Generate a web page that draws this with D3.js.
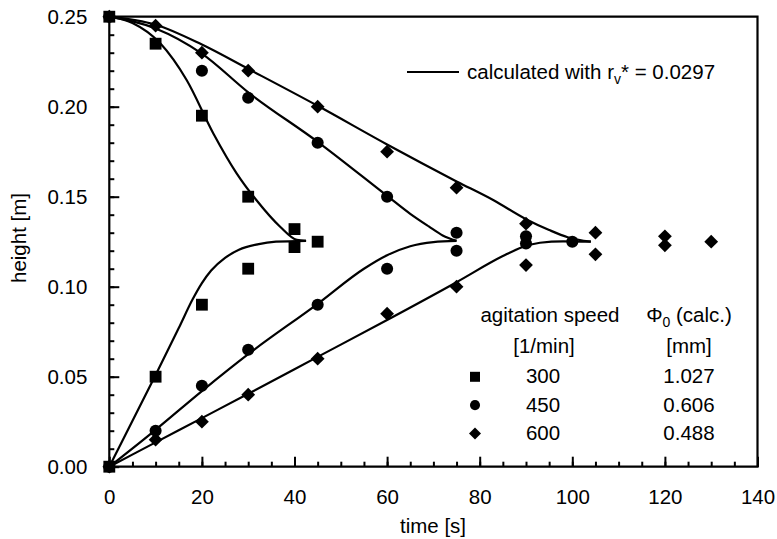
<!DOCTYPE html>
<html>
<head>
<meta charset="utf-8">
<script src="https://cdnjs.cloudflare.com/ajax/libs/d3/7.8.5/d3.min.js"></script>
<style>
  body { margin: 0; background: #fff; }
  svg text { font-family: "Liberation Sans", Arial, sans-serif; fill: #000; }
</style>
</head>
<body>
<div id="chart"></div>
<script>
// measured heights [m] over time [s] for each agitation speed
var meas300 = [[0,0.25],[10,0.235],[20,0.195],[30,0.15],[40,0.132],
  [0,0],[10,0.05],[20,0.09],[30,0.11],[40,0.122],[45,0.125]];
var meas450 = [[0,0.25],[20,0.22],[30,0.205],[45,0.18],[60,0.15],[75,0.13],
  [0,0],[10,0.02],[20,0.045],[30,0.065],[45,0.09],[60,0.11],[75,0.12],
  [90,0.128],[90,0.124],[100,0.125]];
var meas600 = [[0,0.25],[10,0.245],[20,0.23],[30,0.22],[45,0.2],[60,0.175],[75,0.155],
  [90,0.135],[105,0.13],[0,0],[10,0.015],[20,0.025],[30,0.04],[45,0.06],[60,0.085],
  [75,0.1],[90,0.112],[105,0.118],[120,0.128],[120,0.123],[130,0.125]];

// calculated curves
var calcTop300 = [[0,0.25],[5,0.2465],[11,0.2352],[16.7,0.2148],[22.5,0.185],[27.5,0.163],
  [31.8,0.148],[36.9,0.1333],[40.5,0.126],[42.5,0.1255]];
var calcBot300 = [[0,0],[10,0.051],[15,0.077],[18,0.093],[20,0.102],[22,0.109],[25,0.116],
  [28,0.1205],[32,0.1235],[36,0.125],[42.5,0.1255]];
var calcTop450 = [[0,0.25],[10,0.2435],[20,0.2295],[30,0.208],[45,0.1805],[60,0.1505],
  [65,0.1405],[69,0.1335],[72,0.1285],[75,0.1255]];
var calcBot450 = [[0,0],[10,0.0205],[20,0.042],[30,0.0625],[45,0.0905],[55,0.11],
  [60,0.1175],[65,0.1225],[70,0.1248],[75,0.1255]];
var calcTop600 = [[0,0.25],[10,0.2455],[20,0.2345],[30,0.221],[45,0.2005],[60,0.179],
  [75,0.1585],[83,0.148],[90,0.1375],[95,0.1315],[99,0.1275],[104,0.125]];
var calcBot600 = [[0,0],[10,0.0135],[20,0.027],[30,0.0405],[45,0.061],[60,0.0815],
  [75,0.1025],[85,0.117],[89,0.1218],[93,0.1244],[98,0.1252],[104,0.125]];

// legend table
var speeds = ["300", "450", "600"];
var phi0 = ["1.027", "0.606", "0.488"];
var xTicks = [0, 20, 40, 60, 80, 100, 120, 140];
var yTicks = [0, 0.05, 0.10, 0.15, 0.20, 0.25];

var svgWidth = 777, svgHeight = 539;
var margin = {top: 16.7, right: 19.5, bottom: 72.3, left: 109.3};
var width = svgWidth - margin.left - margin.right;
var height = svgHeight - margin.top - margin.bottom;
var fs = "20.5px";

var svg = d3.select("#chart").append("svg")
  .attr("width", svgWidth)
  .attr("height", svgHeight);

var chartGroup = svg.append("g")
  .attr("transform", `translate(${margin.left}, ${margin.top})`);

var x = d3.scaleLinear().domain([0, 140]).range([0, width]);
var y = d3.scaleLinear().domain([0, 0.25]).range([height, 0]);

// minor ticks
chartGroup.append("g")
  .attr("transform", `translate(0, ${height})`)
  .call(d3.axisBottom(x).tickValues(d3.range(0, 141, 5)).tickSize(-5).tickSizeOuter(0).tickFormat(""))
  .call(g => g.select(".domain").remove());
chartGroup.append("g")
  .call(d3.axisLeft(y).tickValues(d3.range(0, 0.2501, 0.01)).tickSize(-5).tickSizeOuter(0).tickFormat(""))
  .call(g => g.select(".domain").remove());

// major ticks + labels
var xAxis = chartGroup.append("g")
  .attr("transform", `translate(0, ${height})`)
  .call(d3.axisBottom(x).tickValues(xTicks).tickSize(-10).tickSizeOuter(0).tickPadding(23).tickFormat(d3.format("d")));
var yAxis = chartGroup.append("g")
  .call(d3.axisLeft(y).tickValues(yTicks).tickSize(-10).tickSizeOuter(0).tickPadding(22).tickFormat(d3.format(".2f")));
[xAxis, yAxis].forEach(function(a) {
  a.select(".domain").remove();
  a.selectAll("text").style("font-size", fs).attr("fill", "#000");
});
chartGroup.selectAll(".tick line").attr("stroke", "#000").attr("stroke-width", 2);

// frame
chartGroup.append("path")
  .attr("d", `M0,0V${height}H${width}V0Z`)
  .attr("fill", "none")
  .attr("stroke", "#000")
  .attr("stroke-width", 2.2);

// calculated curves
var line = d3.line()
  .x(d => x(d[0]))
  .y(d => y(d[1]))
  .curve(d3.curveMonotoneX);
[calcTop300, calcBot300, calcTop450, calcBot450, calcTop600, calcBot600].forEach(function(c) {
  chartGroup.append("path")
    .attr("d", line(c))
    .attr("fill", "none")
    .attr("stroke", "#000")
    .attr("stroke-width", 2.2);
});

// measured points
var series = [
  {data: meas300, type: d3.symbolSquare, size: 140, rot: 0},
  {data: meas450, type: d3.symbolCircle, size: 115, rot: 0},
  {data: meas600, type: d3.symbolSquare, size: 95, rot: 45}
];
series.forEach(function(s) {
  chartGroup.selectAll(null)
    .data(s.data)
    .enter()
    .append("path")
    .attr("d", d3.symbol().type(s.type).size(s.size))
    .attr("transform", d => `translate(${x(d[0])}, ${y(d[1])}) rotate(${s.rot})`)
    .attr("fill", "#000");
});

// axis titles
svg.append("text")
  .attr("x", 433)
  .attr("y", 533)
  .attr("text-anchor", "middle")
  .style("font-size", fs)
  .text("time [s]");
svg.append("text")
  .attr("transform", "translate(26, 238) rotate(-90)")
  .attr("text-anchor", "middle")
  .style("font-size", fs)
  .text("height [m]");

// legend: calculated line
svg.append("line")
  .attr("x1", 407).attr("x2", 459)
  .attr("y1", 72).attr("y2", 72)
  .attr("stroke", "#000")
  .attr("stroke-width", 2.2);
var calcLabel = svg.append("text")
  .attr("x", 467)
  .attr("y", 79)
  .style("font-size", fs);
calcLabel.append("tspan").text("calculated with r");
calcLabel.append("tspan").attr("dy", 5).style("font-size", "14px").text("v");
calcLabel.append("tspan").attr("dy", -5).text("* = 0.0297");

// legend: table
svg.append("text")
  .attr("x", 550).attr("y", 321.5)
  .attr("text-anchor", "middle")
  .style("font-size", fs)
  .text("agitation speed");
var phiHead = svg.append("text")
  .attr("x", 689).attr("y", 321.5)
  .attr("text-anchor", "middle")
  .style("font-size", fs);
phiHead.append("tspan").text("\u03A6");
phiHead.append("tspan").attr("dy", 5).style("font-size", "14px").text("0");
phiHead.append("tspan").attr("dy", -5).text(" (calc.)");
svg.append("text")
  .attr("x", 544).attr("y", 353)
  .attr("text-anchor", "middle")
  .style("font-size", fs)
  .text("[1/min]");
svg.append("text")
  .attr("x", 689).attr("y", 353)
  .attr("text-anchor", "middle")
  .style("font-size", fs)
  .text("[mm]");

var legSyms = [
  {type: d3.symbolSquare, size: 100, rot: 0},
  {type: d3.symbolCircle, size: 80, rot: 0},
  {type: d3.symbolSquare, size: 72, rot: 45}
];
speeds.forEach(function(sp, i) {
  var yy = 383.3 + i * 28.3;
  svg.append("path")
    .attr("d", d3.symbol().type(legSyms[i].type).size(legSyms[i].size))
    .attr("transform", `translate(475, ${yy - 6.5}) rotate(${legSyms[i].rot})`)
    .attr("fill", "#000");
  svg.append("text")
    .attr("x", 543).attr("y", yy)
    .attr("text-anchor", "middle")
    .style("font-size", fs)
    .text(sp);
  svg.append("text")
    .attr("x", 689).attr("y", yy)
    .attr("text-anchor", "middle")
    .style("font-size", fs)
    .text(phi0[i]);
});
</script>
</body>
</html>
